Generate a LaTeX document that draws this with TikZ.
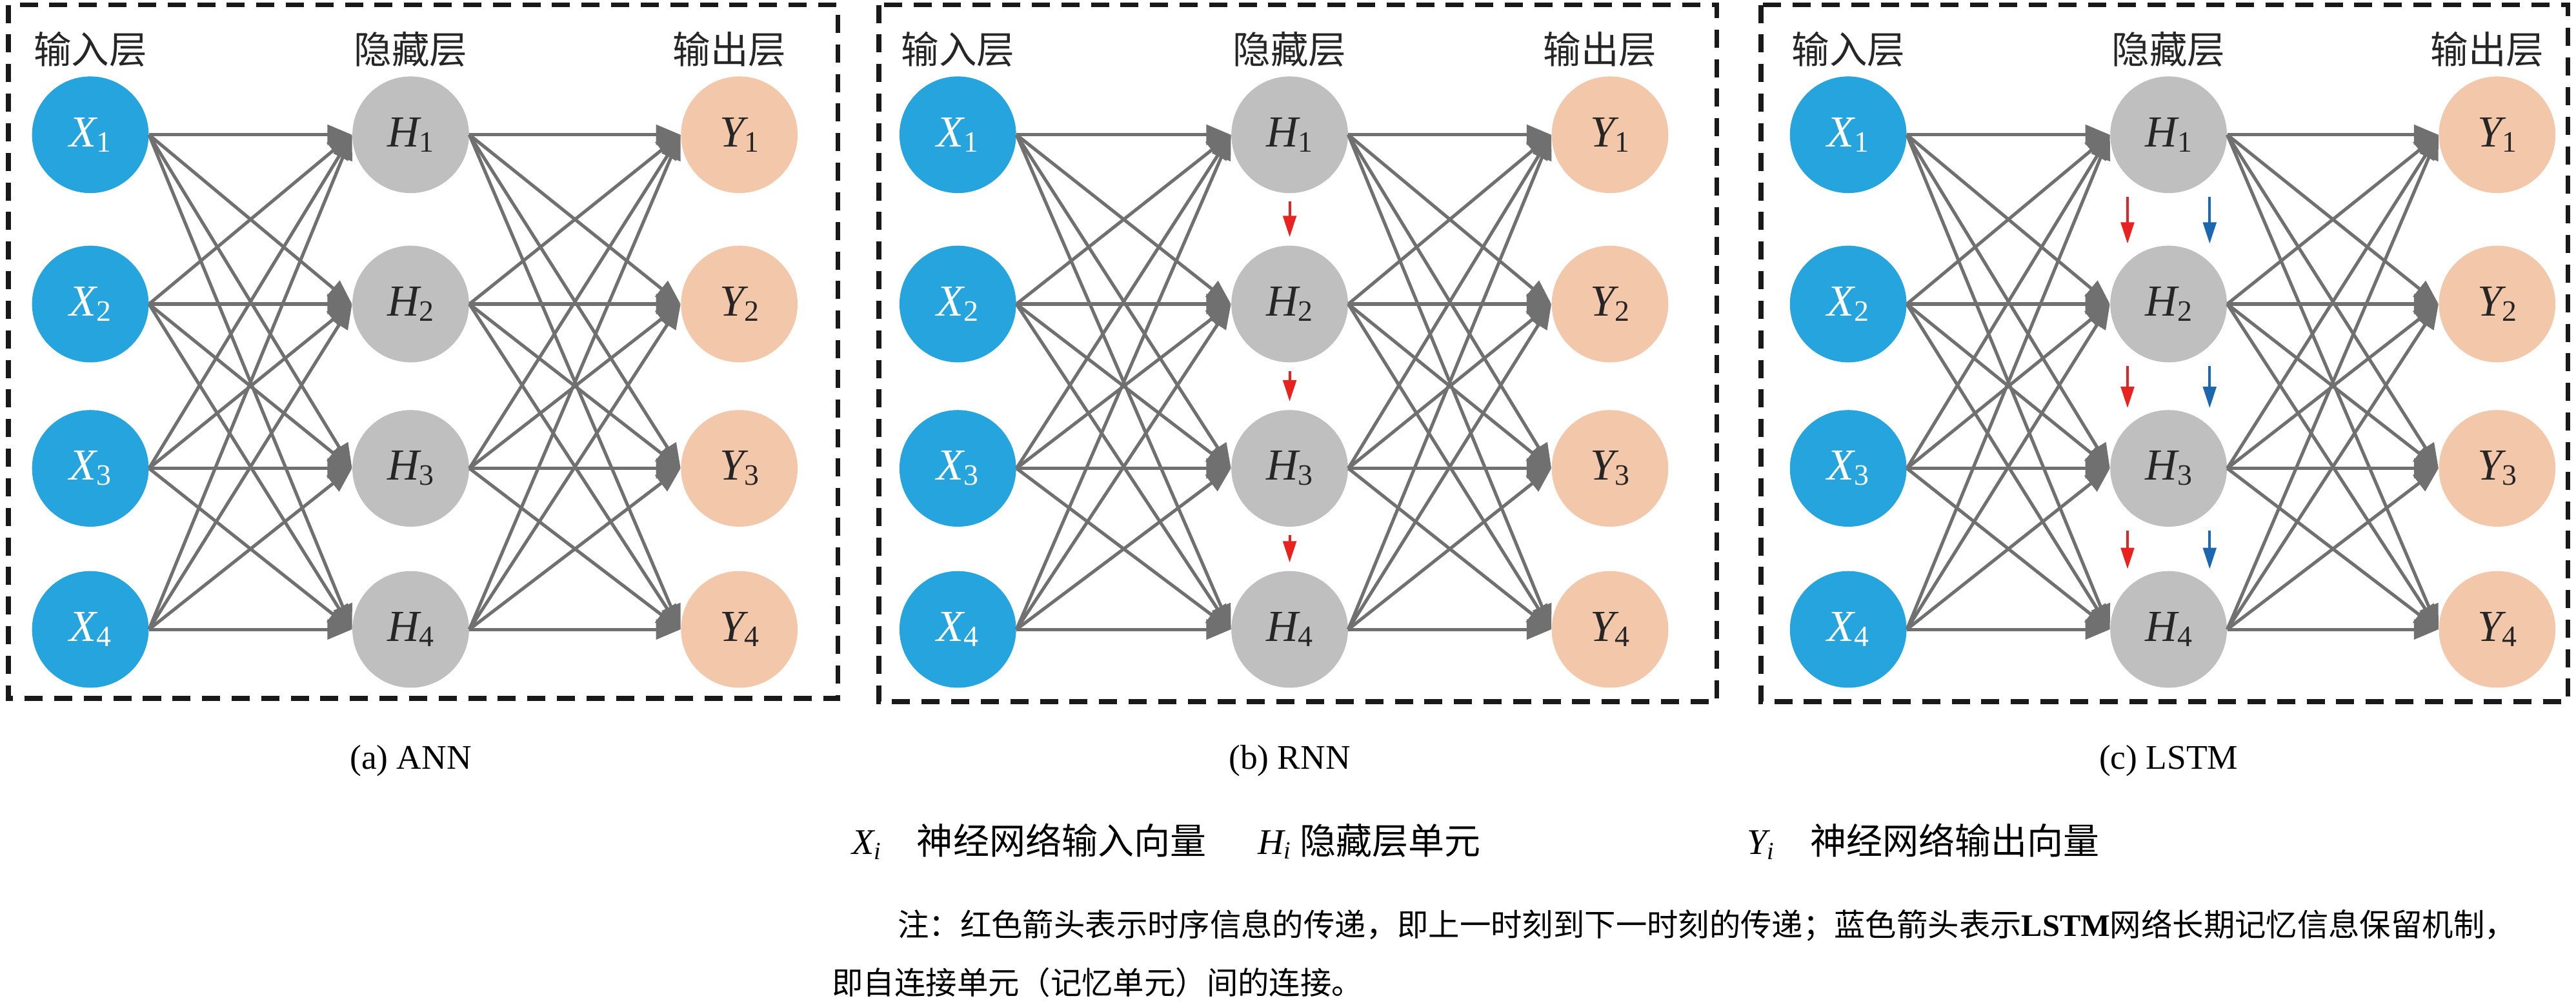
\documentclass[tikz,border=0pt]{standalone}
\usepackage{fontspec}
\setmainfont{Liberation Serif}
\newfontfamily\cjk{Noto Sans CJK SC}
\usetikzlibrary{arrows.meta}
\definecolor{xin}{HTML}{25A4DE}
\definecolor{hid}{HTML}{BFBFBF}
\definecolor{yout}{HTML}{F3C8AA}
\definecolor{conn}{HTML}{707070}
\definecolor{redar}{HTML}{E8231F}
\definecolor{bluar}{HTML}{1C67B0}
\tikzset{
  unit/.style={circle,minimum size=71pt,inner sep=0pt,font=\fontsize{27}{27}\selectfont\itshape},
  xunit/.style={unit,fill=xin,text=white},
  hunit/.style={unit,fill=hid,text=black!85},
  yunit/.style={unit,fill=yout,text=black!85},
  link/.style={draw=conn,line width=2pt,-{Triangle[length=15pt,width=12pt]}},
  tarrow/.style={line width=1.6pt,-{Triangle[length=13pt,width=8pt]}},
  frame/.style={draw=black!90,line width=3pt,dash pattern=on 11pt off 7pt},
  hdr/.style={font=\cjk\fontsize{23}{23}\selectfont,text=black!85},
  captxt/.style={font=\fontsize{21}{21}\selectfont},
}
\begin{document}
\begin{tikzpicture}[x=1pt,y=-1pt]
\useasboundingbox (0,0) rectangle (1568,611.5);
\draw[frame] (5,3) rectangle (510,425);
\draw[frame] (535,3) rectangle (1045,427);
\draw[frame] (1072,3) rectangle (1563,427);
\foreach \p/\xx/\hx/\yx in {a/55/250/450, b/583/785/980, c/1125/1320/1520}{
  \foreach \i/\yy in {1/82,2/185,3/285,4/383}{
    \node[xunit] (\p X\i) at (\xx,\yy) {X\raisebox{-0.25ex}{\upshape\fontsize{18}{18}\selectfont\i}};
    \node[hunit] (\p H\i) at (\hx,\yy) {H\raisebox{-0.25ex}{\upshape\fontsize{18}{18}\selectfont\i}};
    \node[yunit] (\p Y\i) at (\yx,\yy) {Y\raisebox{-0.25ex}{\upshape\fontsize{18}{18}\selectfont\i}};
  }
  \foreach \i in {1,...,4}{\foreach \j in {1,...,4}{
    \draw[link] (\p X\i.east) -- (\p H\j.west);
    \draw[link] (\p H\i.east) -- (\p Y\j.west);
  }}
  \node[hdr,anchor=west] (\p hin) at (\xx-38,30) {输入层};
  \node[hdr] (\p hhid) at (\hx,30) {隐藏层};
  \node[hdr,anchor=east] (\p hout) at (\yx+32,30) {输出层};
}
\foreach \i/\j in {1/2,2/3,3/4}{
  \draw[tarrow,redar] ([yshift=-5pt]bH\i.south) -- ([yshift=5pt]bH\j.north);
  \draw[tarrow,redar] ([xshift=-25pt,yshift=-2pt]cH\i.south) -- ([xshift=-25pt,yshift=1pt]cH\j.north);
  \draw[tarrow,bluar] ([xshift=25pt,yshift=-2pt]cH\i.south) -- ([xshift=25pt,yshift=1pt]cH\j.north);
}
\node[captxt] (capa) at (250,463) {(a) ANN};
\node[captxt] (capb) at (785,463) {(b) RNN};
\node[captxt] (capc) at (1320,463) {(c) LSTM};
\node[captxt,anchor=west,font=\fontsize{22}{22}\selectfont] (lx) at (515,512) {\textit{X\raisebox{-0.3ex}{\fontsize{15}{15}\selectfont i}}\quad{\cjk 神经网络输入向量}};
\node[captxt,anchor=west,font=\fontsize{22}{22}\selectfont] (lh) at (762,512) {\textit{H\raisebox{-0.3ex}{\fontsize{15}{15}\selectfont i}}\ {\cjk 隐藏层单元}};
\node[captxt,anchor=west,font=\fontsize{22}{22}\selectfont] (ly) at (1060,512) {\textit{Y\raisebox{-0.3ex}{\fontsize{15}{15}\selectfont i}}\quad{\cjk 神经网络输出向量}};
\node[anchor=west,font=\cjk\fontsize{19}{19}\selectfont] (n1) at (543,563) {注：红色箭头表示时序信息的传递，即上一时刻到下一时刻的传递；蓝色箭头表示{\rmfamily\bfseries LSTM}网络长期记忆信息保留机制，};
\node[anchor=west,font=\cjk\fontsize{19}{19}\selectfont] (n2) at (503,598) {即自连接单元（记忆单元）间的连接。};
\end{tikzpicture}
\end{document}
